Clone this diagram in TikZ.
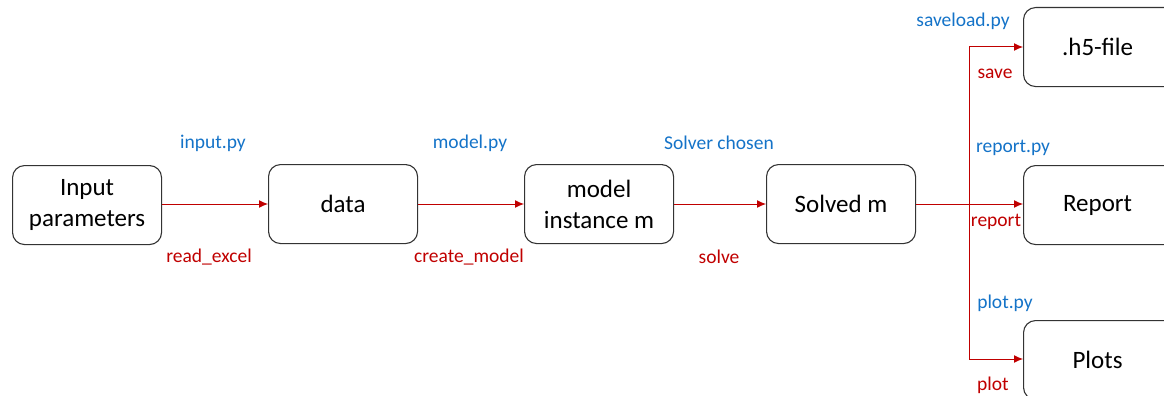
\documentclass[tikz,border=0pt]{standalone}
\usepackage{fontspec}
\setmainfont{Carlito}
\usetikzlibrary{arrows.meta}
\definecolor{lblue}{RGB}{20,115,200}
\definecolor{lred}{RGB}{192,0,0}
\begin{document}
\begin{tikzpicture}[x=1pt,y=-1pt,
  box/.style={draw=black!80,line width=1.1pt,rounded corners=12pt,minimum width=149pt,minimum height=79pt,align=center,font=\fontsize{25}{31}\selectfont,anchor=north west,inner sep=0pt},
  flow/.style={draw=lred,line width=1pt,-{Latex[length=9pt,width=8pt]}},
  bl/.style={text=lblue,font=\fontsize{19.5}{22}\selectfont,inner sep=0pt},
  rl/.style={text=lred,font=\fontsize{19.5}{22}\selectfont,inner sep=0pt}]
\useasboundingbox (0,0) rectangle (1164,396);
\node[box] (inp) at (12,165) {Input\\parameters};
\node[box] (data) at (268,164) {data};
\node[box] (mod) at (524,164) {model\\instance m};
\node[box] (sol) at (766,164) {Solved m};
\node[box,minimum width=160pt] (h5) at (1023,7) {\hspace*{-12pt}.h5-file};
\node[box,minimum width=160pt] (rep) at (1023,165) {\hspace*{-12pt}Report};
\node[box,minimum width=160pt] (plt) at (1023,320) {\hspace*{-12pt}Plots};
\coordinate (split) at (969,204);
\coordinate (top) at (969,47);
\coordinate (bot) at (969,359);
\draw[flow] (inp.east |- 0,204) -- (data.west |- 0,204);
\draw[flow] (data.east |- 0,204) -- (mod.west |- 0,204);
\draw[flow] (mod.east |- 0,204) -- (sol.west |- 0,204);
\draw[flow] (sol.east |- 0,204) -- (rep.west |- 0,204);
\draw[flow] (split) -- (top) -- (h5.west |- top);
\draw[flow] (split) -- (bot) -- (plt.west |- bot);
\node[bl] (l1) at (213,143) {input.py};
\node[rl] (l2) at (209,257) {read\_excel};
\node[bl] (l3) at (470,143) {model.py};
\node[rl] (l4) at (469,257) {create\_model};
\node[bl] (l5) at (719,143) {Solver chosen};
\node[rl] (l6) at (719,257) {solve};
\node[bl] (l7) at (963,21) {saveload.py};
\node[rl] (l8) at (995,74) {save};
\node[bl] (l9) at (1013,148) {report.py};
\node[rl] (l10) at (996,222) {report};
\node[bl] (l11) at (1005,303) {plot.py};
\node[rl] (l12) at (993,385) {plot};
\end{tikzpicture}
\end{document}
